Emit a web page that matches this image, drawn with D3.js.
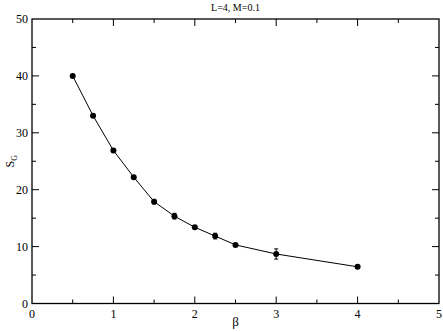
<!DOCTYPE html>
<html>
<head>
<meta charset="utf-8">
<script src="https://cdn.jsdelivr.net/npm/d3@7"></script>
<style>
  body { margin: 0; background: #fff; }
</style>
</head>
<body>
<div class="chart"></div>
<script>
// chart data
var betaValues = [0.5, 0.75, 1.0, 1.25, 1.5, 1.75, 2.0, 2.25, 2.5, 3.0, 4.0];
var sgValues = [40.0, 33.0, 26.9, 22.2, 17.9, 15.35, 13.4, 11.85, 10.3, 8.7, 6.45];
var sgErrors = [0.2, 0.2, 0.2, 0.2, 0.4, 0.5, 0.2, 0.5, 0.2, 0.9, 0.2];
var xMajorTicks = [0, 1, 2, 3, 4, 5];
var xMinorTicks = [0.5, 1.5, 2.5, 3.5, 4.5];
var yMajorTicks = [0, 10, 20, 30, 40, 50];
var yMinorTicks = [5, 15, 25, 35, 45];

var svgWidth = 443;
var svgHeight = 332;
var serif = "'Liberation Serif'";

var margin = { top: 19, right: 4, bottom: 29, left: 32 };
var width = 439 - margin.left;
var height = 303.5 - margin.top;

var svg = d3.select(".chart")
  .append("svg")
  .attr("width", svgWidth)
  .attr("height", svgHeight)
  .style("font-family", serif);

var chartGroup = svg.append("g")
  .attr("transform", `translate(${margin.left}, ${margin.top})`);

var x = d3.scaleLinear().domain([0, 5]).range([0, width]);
var y = d3.scaleLinear().domain([0, 50]).range([height, 0]);

var data = betaValues.map((b, i) => ({ beta: b, sg: sgValues[i], err: sgErrors[i] }));

// frame
chartGroup.append("rect")
  .attr("width", width)
  .attr("height", height)
  .attr("fill", "none")
  .attr("stroke", "#000")
  .attr("stroke-width", 1.3);

// inward ticks on all four sides
function tickLines(values, len, horizontal) {
  values.forEach(function (v) {
    if (horizontal) {
      chartGroup.append("line").attr("x1", x(v)).attr("x2", x(v))
        .attr("y1", height).attr("y2", height - len).attr("stroke", "#000");
      chartGroup.append("line").attr("x1", x(v)).attr("x2", x(v))
        .attr("y1", 0).attr("y2", len).attr("stroke", "#000");
    } else {
      chartGroup.append("line").attr("y1", y(v)).attr("y2", y(v))
        .attr("x1", 0).attr("x2", len).attr("stroke", "#000");
      chartGroup.append("line").attr("y1", y(v)).attr("y2", y(v))
        .attr("x1", width).attr("x2", width - len).attr("stroke", "#000");
    }
  });
}
tickLines(xMajorTicks.slice(1, -1), 7, true);
tickLines(xMinorTicks, 4, true);
tickLines(yMajorTicks.slice(1, -1), 7, false);
tickLines(yMinorTicks, 4, false);

// tick labels
chartGroup.selectAll(".xlab")
  .data(xMajorTicks)
  .enter()
  .append("text")
  .attr("x", d => x(d))
  .attr("y", height + 14)
  .attr("text-anchor", "middle")
  .style("font-family", serif)
  .style("font-size", "12px")
  .text(d => d);

chartGroup.selectAll(".ylab")
  .data(yMajorTicks)
  .enter()
  .append("text")
  .attr("x", -4)
  .attr("y", d => y(d) + 4)
  .attr("text-anchor", "end")
  .style("font-family", serif)
  .style("font-size", "12px")
  .text(d => d);

// line
var line = d3.line()
  .x(d => x(d.beta))
  .y(d => y(d.sg));

chartGroup.append("path")
  .datum(data)
  .attr("d", line)
  .attr("fill", "none")
  .attr("stroke", "#000")
  .attr("stroke-width", 1);

// error bars
var errGroup = chartGroup.selectAll(".err")
  .data(data)
  .enter()
  .append("g");

errGroup.append("line")
  .attr("x1", d => x(d.beta))
  .attr("x2", d => x(d.beta))
  .attr("y1", d => y(d.sg - d.err))
  .attr("y2", d => y(d.sg + d.err))
  .attr("stroke", "#000");

errGroup.append("line")
  .attr("x1", d => x(d.beta) - 2)
  .attr("x2", d => x(d.beta) + 2)
  .attr("y1", d => y(d.sg + d.err))
  .attr("y2", d => y(d.sg + d.err))
  .attr("stroke", "#000");

errGroup.append("line")
  .attr("x1", d => x(d.beta) - 2)
  .attr("x2", d => x(d.beta) + 2)
  .attr("y1", d => y(d.sg - d.err))
  .attr("y2", d => y(d.sg - d.err))
  .attr("stroke", "#000");

// markers
chartGroup.selectAll("circle")
  .data(data)
  .enter()
  .append("circle")
  .attr("cx", d => x(d.beta))
  .attr("cy", d => y(d.sg))
  .attr("r", 3)
  .attr("fill", "#000");

// title
svg.append("text")
  .attr("x", margin.left + width / 2)
  .attr("y", 11)
  .attr("text-anchor", "middle")
  .style("font-family", serif)
  .style("font-size", "10px")
  .text("L=4, M=0.1");

// x label
svg.append("text")
  .attr("x", margin.left + width / 2)
  .attr("y", 326)
  .attr("text-anchor", "middle")
  .style("font-family", serif)
  .style("font-size", "13px")
  .text("β");

// y label
var yLabel = svg.append("text")
  .attr("transform", `translate(14, ${margin.top + height / 2}) rotate(-90)`)
  .attr("text-anchor", "middle")
  .style("font-family", serif)
  .style("font-size", "12px");
yLabel.append("tspan").text("S");
yLabel.append("tspan").attr("dy", 3).style("font-size", "8px").text("G");
</script>
</body>
</html>
